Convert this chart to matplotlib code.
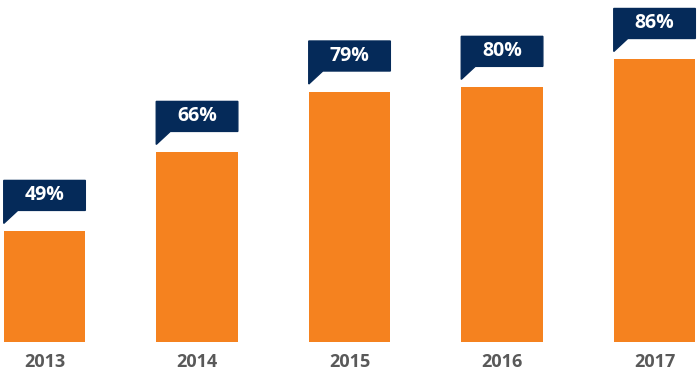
import matplotlib.pyplot as plt
from matplotlib.patches import Polygon

years = ['2013', '2014', '2015', '2016', '2017']
values = [49, 66, 79, 80, 86]
labels = ['49%', '66%', '79%', '80%', '86%']

orange = '#F5821F'
navy = '#052A59'
grey = '#595959'

plt.rcParams['font.family'] = ['Open Sans', 'DejaVu Sans']

fig = plt.figure(figsize=(7, 3.8), dpi=100)
ax = fig.add_axes([0, 0.1, 1, 0.9])

x = list(range(len(years)))
w = 0.535
ax.bar(x, values, width=w, color=orange, zorder=2)

ymin, ymax = 25.2, 98.8
ax.set_xlim(-0.292, 4.298)
ax.set_ylim(ymin, ymax)

# pixel -> data units on y
ax_h = fig.get_figheight() * fig.dpi * 0.9
py = (ymax - ymin) / ax_h
tail_w = 14 / (fig.get_figwidth() * fig.dpi) * (4.298 + 0.292)

for xi, v, lab in zip(x, values, labels):
    l, r = xi - w / 2, xi + w / 2
    pts = [(l, v + 8 * py), (l + tail_w, v + 21 * py), (r, v + 21 * py),
           (r, v + 51 * py), (l, v + 51 * py)]
    ax.add_patch(Polygon(pts, closed=True, color=navy, zorder=3, clip_on=False))
    ax.text(xi, v + 36 * py, lab, color='white', fontsize=14, fontweight='bold',
            ha='center', va='center', zorder=4)

ax.set_xticks(x)
ax.set_xticklabels(years, fontsize=13, fontweight='bold', color=grey)
ax.tick_params(axis='x', length=0, pad=8)
ax.set_yticks([])
for s in ax.spines.values():
    s.set_visible(False)

fig.savefig('out.png', dpi=100)
